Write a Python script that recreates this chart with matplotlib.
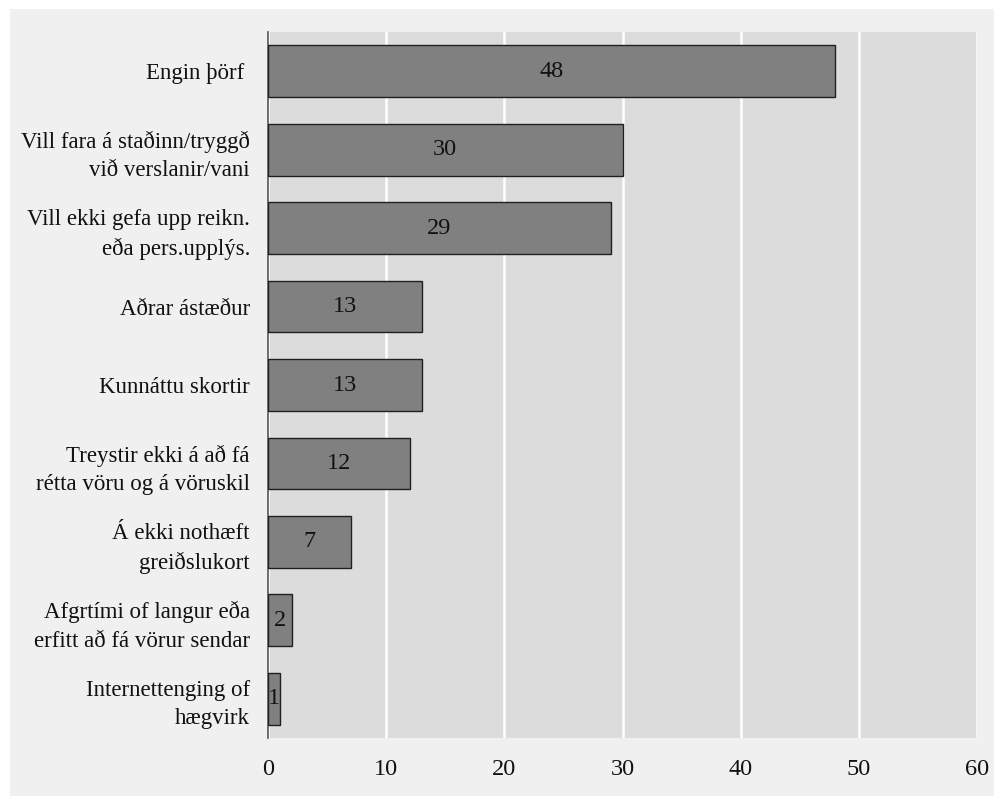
import matplotlib.pyplot as plt
from matplotlib.patches import Rectangle

# Categories (top to bottom) and their counts
categories = [
    'Engin þörf ',
    'Vill fara á staðinn/tryggð\nvið verslanir/vani',
    'Vill ekki gefa upp reikn.\neða pers.upplýs.',
    'Aðrar ástæður',
    'Kunnáttu skortir',
    'Treystir ekki á að fá\nrétta vöru og á vöruskil',
    'Á ekki nothæft\ngreiðslukort',
    'Afgrtími of langur eða\nerfitt að fá vörur sendar',
    'Internettenging of\nhægvirk',
]
values = [48, 30, 29, 13, 13, 12, 7, 2, 1]
x_ticks = [0, 10, 20, 30, 40, 50, 60]

plt.rcParams['font.family'] = ['Liberation Serif', 'DejaVu Serif']

W, H = 998, 796
fig = plt.figure(figsize=(W / 100, H / 100), dpi=100, facecolor='white')

# light gray panel behind the whole chart
fig.patches.append(Rectangle((10 / W, 0), (994 - 10) / W, 1 - 9 / H,
                             transform=fig.transFigure, facecolor='#f0f0f0',
                             edgecolor='none', zorder=-10))

ax = fig.add_axes([268 / W, 1 - 738 / H, (977 - 268) / W, (738 - 32) / H])
ax.set_facecolor('#dcdcdc')

pos = list(range(len(categories)))
bars = ax.barh(pos, values, height=0.66, color='#808080', edgecolor='#202020',
               linewidth=1.0, zorder=3)
ax.bar_label(bars, labels=[str(v) for v in values], label_type='center',
             fontsize=17.5, color='#111111')

ax.set_yticks(pos)
ax.set_yticklabels(categories, fontsize=16.5, color='#111111', linespacing=1.45)
ax.set_ylim(len(categories) - 0.5, -0.5)

ax.set_xlim(0, 60)
ax.set_xticks(x_ticks)
ax.set_xticklabels([str(t) for t in x_ticks], fontsize=17.5, color='#111111')
ax.grid(axis='x', color='white', linewidth=1.8, zorder=1)
ax.set_axisbelow(True)

ax.tick_params(axis='both', length=0)
ax.tick_params(axis='y', pad=13)
ax.tick_params(axis='x', pad=15)
for side in ['top', 'right', 'bottom']:
    ax.spines[side].set_visible(False)
ax.spines['left'].set_color('#555555')
ax.spines['left'].set_linewidth(1.2)

fig.savefig('out.png', dpi=100, facecolor=fig.get_facecolor())
